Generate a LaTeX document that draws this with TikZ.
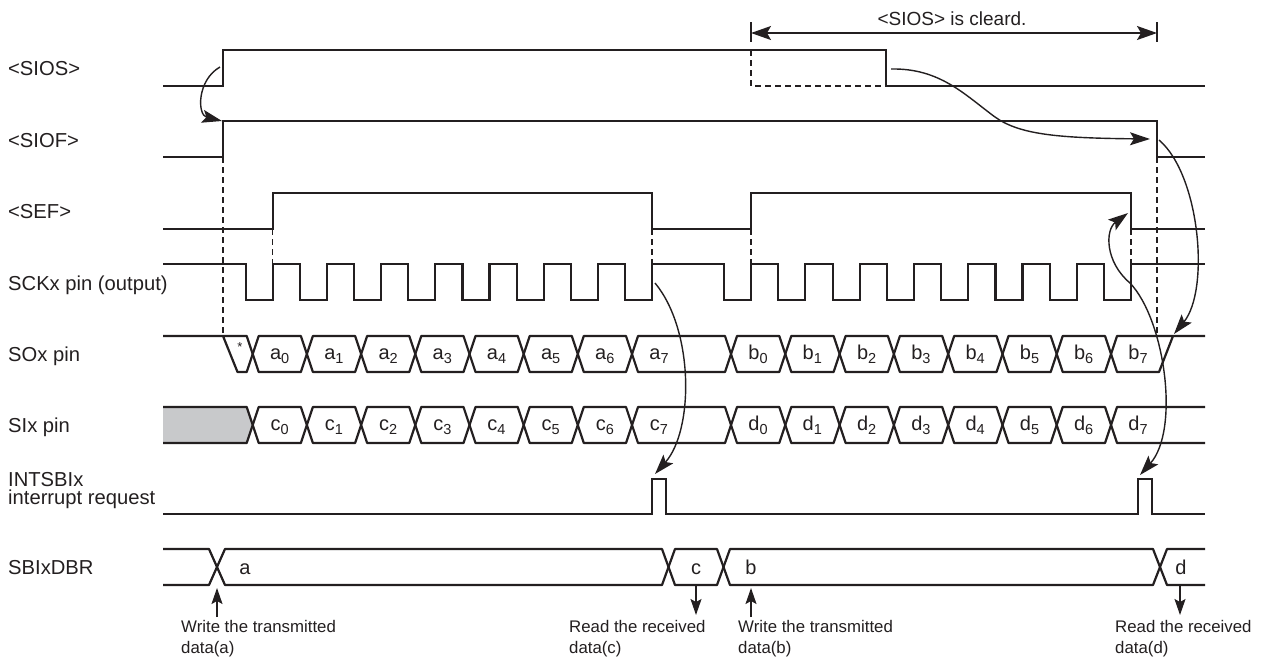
\documentclass[tikz,border=0pt]{standalone}
\usepackage{fontspec}
\setmainfont{Liberation Sans}
\usetikzlibrary{arrows.meta}
\definecolor{ink}{RGB}{35,31,32}
\definecolor{sigray}{RGB}{200,201,203}
\newcommand{\mysub}[1]{\raisebox{-4.5pt}{\fontsize{14.5}{14.5}\selectfont #1}}
\begin{document}
\begin{tikzpicture}[x=1pt,y=-1pt, color=ink,
  sig/.style={draw=ink, line width=2.2pt, line join=miter, line cap=butt},
  cellline/.style={draw=ink, line width=2.2pt, line join=bevel},
  dsh/.style={draw=ink, line width=1.2pt, dash pattern=on 6pt off 4pt},
  arr/.style={draw=ink, line width=1.4pt, -{Stealth[length=20pt,width=13pt,inset=4pt]}},
  sarr/.style={draw=ink, line width=1.4pt, -{Stealth[length=16pt,width=11pt,inset=3pt]}},
  dimarr/.style={draw=ink, line width=1.4pt, {Stealth[length=20pt,width=14pt,inset=4pt]}-{Stealth[length=20pt,width=14pt,inset=4pt]}},
  lbl/.style={anchor=base west, inner sep=0pt, text=ink, align=left, font=\fontsize{20.2}{18}\selectfont},
  cell/.style={anchor=base, inner sep=0pt, text=ink, font=\fontsize{20}{20}\selectfont},
  note/.style={anchor=base west, inner sep=0pt, text=ink, align=left, font=\fontsize{16.8}{21}\selectfont},
]
\useasboundingbox (0,0) rectangle (1266,657);

% ---- row labels
\node[lbl] (lSIOS) at (8,75) {<SIOS>};
\node[lbl] (lSIOF) at (8,147) {<SIOF>};
\node[lbl] (lSEF) at (8,218) {<SEF>};
\node[lbl] (lSCK) at (8,290) {SCKx pin (output)};
\node[lbl] (lSO) at (8,361) {SOx pin};
\node[lbl] (lSI) at (8,432) {SIx pin};
\node[lbl] (lINT) at (8,504) {INTSBIx\\interrupt request};
\node[lbl] (lDBR) at (8,574) {SBIxDBR};

% ---- top dimension
\node[cell, font=\fontsize{19}{20}\selectfont] (tlab) at (952,25) {<SIOS> is cleard.};
\coordinate (dL) at (751,33);
\coordinate (dR) at (1157,33);
\draw[draw=ink, line width=1.2pt] (751,22) -- (751,42);
\draw[draw=ink, line width=1.2pt] (1157,22) -- (1157,42);
\draw[dimarr] (dL) -- (dR);

% ---- <SIOS>
\draw[sig] (163,86) -- (223,86) -- (223,50) -- (886,50) -- (886,86) -- (1205,86);
\draw[dsh] (751,50) -- (751,86) -- (886,86);

% ---- <SIOF>
\draw[sig] (163,157) -- (223,157) -- (223,121) -- (1157,121) -- (1157,157) -- (1205,157);
\draw[dsh] (223,157) -- (223,336);
\draw[dsh] (1157,157) -- (1157,336);

% ---- <SEF>
\draw[sig] (163,229) -- (272.7,229) -- (272.7,193) -- (652,193) -- (652,229) -- (751,229) -- (751,193) -- (1131,193) -- (1131,229) -- (1205,229);
\foreach \x in {272.7,652,751,1131} \draw[dsh] (\x,229) -- (\x,264);

% ---- SCKx
\draw[sig] (163,264)
  foreach \r in {272.7,326.9,381.1,435.3,489.5,543.7,597.8,652.0} { -- ({\r-27},264) -- ({\r-27},300) -- (\r,300) -- (\r,264) }
  foreach \r in {751.0,805.3,859.6,913.9,968.2,1022.5,1076.7,1131.0} { -- ({\r-27},264) -- ({\r-27},300) -- (\r,300) -- (\r,264) }
  -- (1205,264);

% ---- SOx / SIx cells
\foreach \p/\q in {252.7/306.9,306.9/361.1,361.1/415.3,415.3/469.5,469.5/523.7,523.7/577.8,577.8/632.0,632.0/731.0,731.0/785.3,785.3/839.6,839.6/893.9,893.9/948.2,948.2/1002.5,1002.5/1056.7,1056.7/1111.0}{
  \draw[cellline] (\p,354) -- ({\p+6},336) -- ({\q-6},336) -- (\q,354) -- ({\q-6},372) -- ({\p+6},372) -- cycle;
  \draw[cellline] (\p,425) -- ({\p+6},407) -- ({\q-6},407) -- (\q,425) -- ({\q-6},443) -- ({\p+6},443) -- cycle;
}
% start of SOx
\draw[cellline] (163,336) -- (246.7,336) -- (252.7,354) -- (246.7,372) -- (237.5,372) -- (223,336);
\node[inner sep=0pt, text=ink, font=\fontsize{13}{13}\selectfont] (star) at (240,347) {*};
% end of SOx
\draw[cellline] (1205,336) -- (1117,336) -- (1111,354) -- (1117,372) -- (1159,372) -- (1173,336);
% start of SIx (undefined)
\fill[fill=sigray, draw=none] (163,407) -- (246.7,407) -- (252.7,425) -- (246.7,443) -- (163,443) -- cycle;
\draw[cellline] (163,407) -- (246.7,407) -- (252.7,425) -- (246.7,443) -- (163,443);
% end of SIx
\draw[cellline] (1205,407) -- (1117,407) -- (1111,425) -- (1117,443) -- (1205,443);

\foreach \c/\i in {252.7/0,306.9/1,361.1/2,415.3/3,469.5/4,523.7/5,577.8/6,632.0/7}{
  \node[cell] (a\i) at ({\c+27},359) {a\mysub{\i}};
  \node[cell] (c\i) at ({\c+27},430) {c\mysub{\i}};
}
\foreach \c/\i in {731.0/0,785.3/1,839.6/2,893.9/3,948.2/4,1002.5/5,1056.7/6,1111.0/7}{
  \node[cell] (b\i) at ({\c+27},359) {b\mysub{\i}};
  \node[cell] (d\i) at ({\c+27},430) {d\mysub{\i}};
}

% ---- INTSBIx
\draw[sig] (163,514) -- (652,514) -- (652,479) -- (666,479) -- (666,514) -- (1138,514) -- (1138,479) -- (1152,479) -- (1152,514) -- (1205,514);

% ---- SBIxDBR
\draw[cellline] (163,549) -- (209,549) -- (217,567) -- (209,585) -- (163,585);
\draw[cellline] (217,567) -- (225,549) -- (662,549) -- (668.5,567) -- (662,585) -- (225,585) -- cycle;
\draw[cellline] (668.5,567) -- (675,549) -- (717,549) -- (723.5,567) -- (717,585) -- (675,585) -- cycle;
\draw[cellline] (723.5,567) -- (730,549) -- (1153,549) -- (1160,567) -- (1153,585) -- (730,585) -- cycle;
\draw[cellline] (1205,549) -- (1167,549) -- (1160,567) -- (1167,585) -- (1205,585);
\node[cell] (ra) at (245,574) {a};
\node[cell] (rc) at (696,574) {c};
\node[cell] (rb) at (751,574) {b};
\node[cell] (rd) at (1181,574) {d};

% ---- notes with short arrows
\node[note] (nwa) at (181,653) {Write the transmitted\\data(a)};
\node[note] (nrc) at (569,653) {Read the received\\data(c)};
\node[note] (nwb) at (738,653) {Write the transmitted\\data(b)};
\node[note] (nrd) at (1115,653) {Read the received\\data(d)};
\draw[sarr] (217,617) -- (217,588);
\draw[sarr] (751,617) -- (751,588);
\draw[sarr] (696,586) -- (696,615);
\draw[sarr] (1180,586) -- (1180,615);

% ---- causal curved arrows
\draw[arr] (220,67) .. controls (197,80) and (197,115) .. (222,121);
\draw[arr] (891,69) .. controls (940,68) and (965,95) .. (995,117) .. controls (1020,135) and (1060,138) .. (1150,139);
\draw[arr] (1159,140) .. controls (1200,175) and (1210,290) .. (1174,334);
\draw[arr] (655,283) .. controls (694,330) and (694,430) .. (655,474);
\draw[arr] (1130,283) .. controls (1105,262) and (1105,230) .. (1128,213);
\draw[arr] (1130,283) .. controls (1165,320) and (1180,430) .. (1140,475);
\end{tikzpicture}
\end{document}
